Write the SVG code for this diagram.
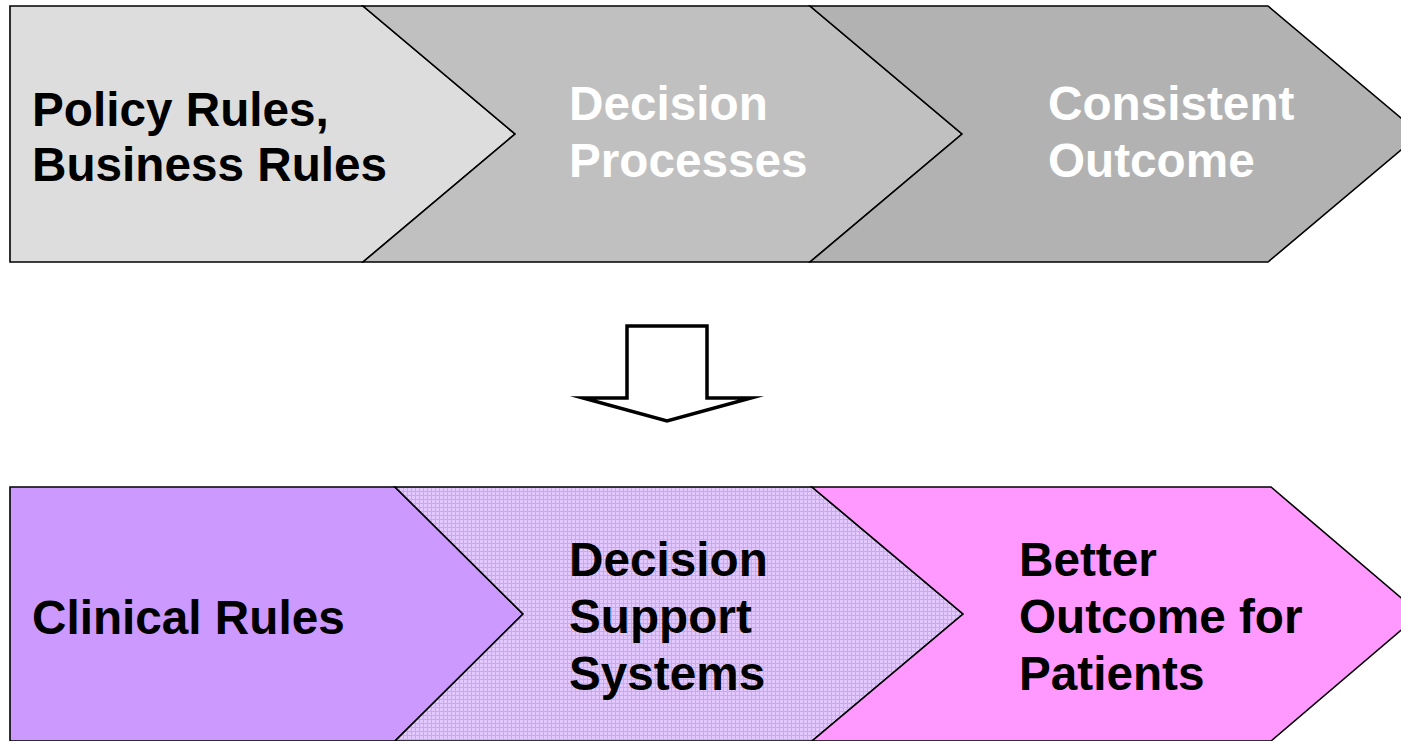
<svg xmlns="http://www.w3.org/2000/svg" width="1401" height="741" viewBox="0 0 1401 741">
  <defs>
    <!-- fine lavender mesh used by the middle chevron of the lower row -->
    <pattern id="mesh" width="4" height="4" patternUnits="userSpaceOnUse">
      <rect width="4" height="4" fill="#E3C8FF"/>
      <rect x="0" y="3" width="4" height="1" fill="#CFA2FF"/>
      <rect x="3" y="0" width="1" height="4" fill="#CFA2FF"/>
    </pattern>
    <style>
      .chev { stroke: #000; stroke-width: 1.6; stroke-linejoin: miter; }
      .lbl { font-family: "Liberation Sans", Arial, sans-serif; font-weight: bold; font-size: 47.7px; }
      .dark { fill: #000; }
      .light { fill: #fff; }
      .bigarrow { fill: #fff; stroke: #000; stroke-width: 3.5; stroke-linejoin: miter; stroke-miterlimit: 10; }
    </style>
  </defs>
  <rect width="1401" height="741" fill="#fff"/>

  <!-- upper process row -->
  <g id="policy-rules">
    <polygon class="chev" fill="#DDDDDD" points="10,6 363,6 515,134 363,262 10,262"/>
    <text class="lbl dark"><tspan x="32" y="126">Policy Rules,</tspan><tspan x="32" y="181">Business Rules</tspan></text>
  </g>
  <g id="decision-processes">
    <polygon class="chev" fill="#C0C0C0" points="363,6 810,6 962,134 810,262 363,262 515,134"/>
    <text class="lbl light"><tspan x="569" y="120">Decision</tspan><tspan x="569" y="177">Processes</tspan></text>
  </g>
  <g id="consistent-outcome">
    <polygon class="chev" fill="#B2B2B2" points="810,6 1268,6 1420,134 1268,262 810,262 962,134"/>
    <text class="lbl light"><tspan x="1048" y="120">Consistent</tspan><tspan x="1048" y="177">Outcome</tspan></text>
  </g>

  <!-- transition between the two rows -->
  <g id="connectors">
    <polygon class="bigarrow" points="627,326 707,326 707,398 751,398 667,421 583,398 627,398"/>
  </g>

  <!-- lower clinical row -->
  <g id="clinical-rules">
    <polygon class="chev" fill="#CC99FF" points="10,487 395,487 523,614 395,741 10,741"/>
    <text class="lbl dark" x="32" y="634">Clinical Rules</text>
  </g>
  <g id="decision-support">
    <polygon class="chev" fill="url(#mesh)" points="395,487 812,487 963,614 812,741 395,741 523,614"/>
    <text class="lbl dark"><tspan x="569" y="576">Decision</tspan><tspan x="569" y="633">Support</tspan><tspan x="569" y="690">Systems</tspan></text>
  </g>
  <g id="better-outcome">
    <polygon class="chev" fill="#FF99FF" points="812,487 1271,487 1420,614 1271,741 812,741 963,614"/>
    <text class="lbl dark"><tspan x="1019" y="576">Better</tspan><tspan x="1019" y="633">Outcome for</tspan><tspan x="1019" y="690">Patients</tspan></text>
  </g>
</svg>
